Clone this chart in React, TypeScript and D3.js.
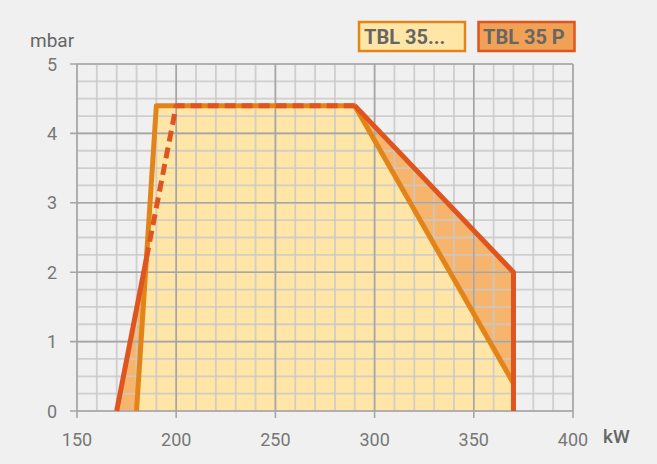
import React from "react";
import * as d3 from "d3";

const seriesNames = ["TBL 35...", "TBL 35 P"];
const tbl35Kw = [180, 190, 290, 370, 370];
const tbl35Mbar = [0, 4.4, 4.4, 0.4, 0];
const tbl35pKw = [170, 200, 290, 370, 370];
const tbl35pMbar = [0, 4.4, 4.4, 2, 0];
const xTicks = [150, 200, 250, 300, 350, 400];
const yTicks = [0, 1, 2, 3, 4, 5];

const W = 657, H = 464;
const FONT = "Roboto, 'Open Sans', sans-serif";
const ORANGE = "#e2841a";
const RED = "#df5520";
const LIGHT = "#ffe6a6";
const DARK = "#f6b46c";

type P = [number, number];

function intersect(a1: P, a2: P, b1: P, b2: P): P {
  const d = (a2[0] - a1[0]) * (b2[1] - b1[1]) - (a2[1] - a1[1]) * (b2[0] - b1[0]);
  const t = ((b1[0] - a1[0]) * (b2[1] - b1[1]) - (b1[1] - a1[1]) * (b2[0] - b1[0])) / d;
  return [a1[0] + t * (a2[0] - a1[0]), a1[1] + t * (a2[1] - a1[1])];
}

export default function App() {
  const x = d3.scaleLinear().domain([150, 400]).range([77, 573]);
  const y = d3.scaleLinear().domain([0, 5]).range([411, 64]);
  const line = d3.line<P>().x((d) => x(d[0])).y((d) => y(d[1]));

  const a: P[] = tbl35Kw.map((k, i) => [k, tbl35Mbar[i]]);
  const b: P[] = tbl35pKw.map((k, i) => [k, tbl35pMbar[i]]);
  const cross = intersect(b[0], b[1], a[0], a[1]);

  const minorX = d3.range(150, 401, 10);
  const minorY = d3.range(0, 5.001, 0.25);

  return (
    <svg width={W} height={H} style={{ position: "absolute", left: 0, top: 0, background: "#f0f0f0" }}>
      <rect x={0} y={0} width={W} height={H} fill="#f0f0f0" />
      <path d={line(b) + "Z"} fill={DARK} />
      <path d={line(a) + "Z"} fill={LIGHT} />
      {minorX.map((v) => (
        <line key={"mx" + v} x1={x(v)} x2={x(v)} y1={y(0)} y2={y(5)} stroke="#c9c9c9" strokeOpacity={0.85} strokeWidth={1.8} />
      ))}
      {minorY.map((v) => (
        <line key={"my" + v} x1={x(150)} x2={x(400)} y1={y(v)} y2={y(v)} stroke="#c9c9c9" strokeOpacity={0.85} strokeWidth={1.8} />
      ))}
      {xTicks.map((v) => (
        <line key={"Mx" + v} x1={x(v)} x2={x(v)} y1={y(0) + 7} y2={y(5)} stroke="#a6a6a6" strokeWidth={1.6} />
      ))}
      {yTicks.map((v) => (
        <line key={"My" + v} x1={x(150) - 7} x2={x(400)} y1={y(v)} y2={y(v)} stroke="#a6a6a6" strokeWidth={1.6} />
      ))}
      <path d={line(a.slice(0, 4)) || ""} fill="none" stroke={ORANGE} strokeWidth={5} strokeLinejoin="round" />
      <path d={line([b[0], cross]) || ""} fill="none" stroke={RED} strokeWidth={5} />
      <path d={line([cross, b[1], b[2]]) || ""} fill="none" stroke={RED} strokeWidth={5} strokeDasharray="11 6" strokeLinejoin="round" />
      <path d={line(b.slice(2)) || ""} fill="none" stroke={RED} strokeWidth={5} strokeLinejoin="round" />
      {xTicks.map((v) => (
        <text key={"tx" + v} x={x(v)} y={446} textAnchor="middle" fontFamily={FONT} fontSize={18} fill="#777">{v}</text>
      ))}
      {yTicks.map((v) => (
        <text key={"ty" + v} x={57} y={y(v) + 6.5} textAnchor="end" fontFamily={FONT} fontSize={18} fill="#777">{v}</text>
      ))}
      <text x={30} y={47} fontFamily={FONT} fontSize={19} fill="#666">mbar</text>
      <text x={603} y={443} fontFamily={FONT} fontSize={19} fontWeight={500} fill="#666">kW</text>
      <rect x={359} y={22} width={106} height={29} fill={LIGHT} stroke={ORANGE} strokeWidth={2.5} />
      <text x={364} y={44} fontFamily={FONT} fontSize={20} fontWeight="bold" fill="#666">{seriesNames[0]}</text>
      <rect x={478.5} y={22} width={96} height={29} fill="#f1a155" stroke={RED} strokeWidth={2.5} />
      <text x={483} y={44} fontFamily={FONT} fontSize={20} fontWeight="bold" fill="#666">{seriesNames[1]}</text>
    </svg>
  );
}
